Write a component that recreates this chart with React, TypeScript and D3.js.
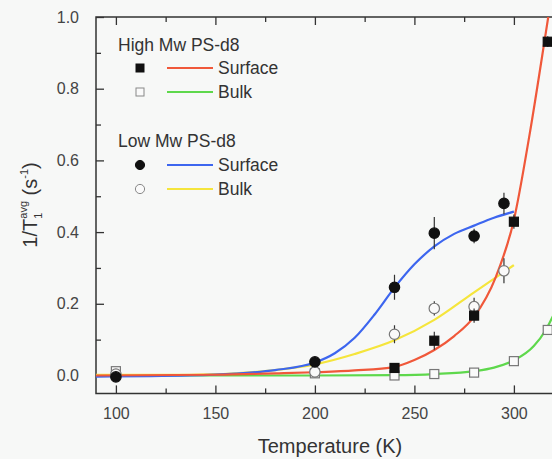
import React, { useEffect, useRef } from "react";
import * as d3 from "d3";

// measured points (T in K, 1/T1avg in s^-1)
const highSurfT = [240, 260, 280, 300, 317];
const highSurfV = [0.021, 0.097, 0.167, 0.429, 0.931];
const highSurfErr = [0.01, 0.025, 0.02, 0.02, 0.015];

const highBulkT = [100, 200, 240, 260, 280, 300, 317];
const highBulkV = [0.012, 0.006, 0.0, 0.004, 0.008, 0.04, 0.127];
const highBulkErr = [0.01, 0.008, 0.008, 0.008, 0.008, 0.008, 0.01];

const lowSurfT = [100, 200, 240, 260, 280, 295];
const lowSurfV = [-0.004, 0.038, 0.246, 0.397, 0.389, 0.48];
const lowSurfErr = [0.008, 0.01, 0.035, 0.045, 0.02, 0.03];

const lowBulkT = [100, 200, 240, 260, 280, 295];
const lowBulkV = [0.004, 0.01, 0.115, 0.187, 0.192, 0.292];
const lowBulkErr = [0.01, 0.008, 0.025, 0.02, 0.025, 0.035];

// fitted curves
const redCurveT = [90, 150, 182, 200, 220, 240, 250, 260, 270, 280, 291, 300, 308, 316, 319.5];
const redCurveV = [0.0, 0.002, 0.006, 0.009, 0.014, 0.024, 0.043, 0.071, 0.11, 0.164, 0.276, 0.434, 0.676, 0.955, 1.08];

const greenCurveT = [90, 200, 240, 260, 280, 290, 300, 310, 316, 320];
const greenCurveV = [0.0, 0.0, 0.001, 0.004, 0.012, 0.022, 0.042, 0.082, 0.127, 0.17];

const blueCurveT = [90, 137, 160, 180, 200, 210, 220, 230, 240, 250, 260, 270, 280, 290, 300];
const blueCurveV = [-0.003, 0.0, 0.005, 0.015, 0.036, 0.062, 0.105, 0.17, 0.245, 0.31, 0.36, 0.395, 0.418, 0.44, 0.457];

const yellowCurveT = [90, 137, 160, 180, 200, 220, 240, 260, 280, 300];
const yellowCurveV = [0.002, 0.002, 0.006, 0.015, 0.031, 0.06, 0.098, 0.155, 0.232, 0.308];

const xTicks = [100, 150, 200, 250, 300];
const xMinor = [125, 175, 225, 275];
const yTicks = [0.0, 0.2, 0.4, 0.6, 0.8, 1.0];
const yMinor = [0.1, 0.3, 0.5, 0.7, 0.9];

const W = 552,
  H = 459;
const FONT = "'Liberation Sans', Arial, sans-serif";

export default function App() {
  const ref = useRef<SVGSVGElement>(null);

  useEffect(() => {
    const svg = d3.select(ref.current);
    svg.selectAll("*").remove();

    const x = d3.scaleLinear().domain([90, 320]).range([96, 553.7]);
    const y = d3.scaleLinear().domain([-0.05, 1.0]).range([393.4, 17]);
    const [x0, x1] = x.range();
    const [y0, y1] = y.range();
    const ink = "#333";

    svg.append("rect").attr("width", W).attr("height", H).attr("fill", "#f7f8f7");

    svg
      .append("defs")
      .append("clipPath")
      .attr("id", "plot")
      .append("rect")
      .attr("x", x0)
      .attr("y", y1)
      .attr("width", x1 - x0)
      .attr("height", y0 - y1);

    // axes with inward ticks
    const axes = svg.append("g");
    const bottom = axes.append("g").attr("transform", `translate(0,${y0})`);
    bottom.call(d3.axisBottom(x).tickValues(xTicks).tickSize(-8).tickSizeOuter(0).tickPadding(14).tickFormat(d3.format("d")));
    bottom.append("g").call(d3.axisBottom(x).tickValues(xMinor).tickSize(-5).tickSizeOuter(0).tickFormat(() => ""));
    const top = axes.append("g").attr("transform", `translate(0,${y1})`);
    top.call(d3.axisTop(x).tickValues(xTicks).tickSize(-8).tickSizeOuter(0).tickFormat(() => ""));
    top.append("g").call(d3.axisTop(x).tickValues(xMinor).tickSize(-5).tickSizeOuter(0).tickFormat(() => ""));
    const left = axes.append("g").attr("transform", `translate(${x0},0)`);
    left.call(d3.axisLeft(y).tickValues(yTicks).tickSize(-8).tickSizeOuter(0).tickPadding(17).tickFormat(d3.format(".1f")));
    left.append("g").call(d3.axisLeft(y).tickValues(yMinor).tickSize(-5).tickSizeOuter(0).tickFormat(() => ""));

    axes.selectAll(".domain").remove();
    axes.selectAll(".tick line").attr("stroke", ink).attr("stroke-width", 1.3);
    axes
      .selectAll(".tick text")
      .attr("fill", "#444")
      .attr("font-size", 16)
      .attr("font-family", FONT);

    // frame (left, bottom, top)
    axes
      .append("path")
      .attr("d", `M${x1},${y1}H${x0}V${y0}H${x1}`)
      .attr("fill", "none")
      .attr("stroke", ink)
      .attr("stroke-width", 1.5);

    const plot = svg.append("g").attr("clip-path", "url(#plot)");
    const line = d3
      .line<[number, number]>()
      .x((d) => x(d[0]))
      .y((d) => y(d[1]))
      .curve(d3.curveMonotoneX);

    const curves: [number[], number[], string][] = [
      [greenCurveT, greenCurveV, "#5ed84c"],
      [yellowCurveT, yellowCurveV, "#f5e53c"],
      [blueCurveT, blueCurveV, "#3d66ef"],
      [redCurveT, redCurveV, "#f0583a"],
    ];
    curves.forEach(([ts, vs, c]) => {
      plot
        .append("path")
        .datum(ts.map((t, i) => [t, vs[i]] as [number, number]))
        .attr("fill", "none")
        .attr("stroke", c)
        .attr("stroke-width", 2.2)
        .attr("d", line);
    });

    const marks = plot.append("g");
    const series: [number[], number[], number[], string, boolean][] = [
      [highBulkT, highBulkV, highBulkErr, "square", false],
      [lowBulkT, lowBulkV, lowBulkErr, "circle", false],
      [highSurfT, highSurfV, highSurfErr, "square", true],
      [lowSurfT, lowSurfV, lowSurfErr, "circle", true],
    ];
    series.forEach(([ts, vs, es, shape, filled]) => {
      ts.forEach((t, i) => {
        marks
          .append("line")
          .attr("x1", x(t))
          .attr("x2", x(t))
          .attr("y1", y(vs[i] - es[i]))
          .attr("y2", y(vs[i] + es[i]))
          .attr("stroke", ink)
          .attr("stroke-width", 1.2);
        if (shape === "square") {
          marks
            .append("rect")
            .attr("x", x(t) - 4.5)
            .attr("y", y(vs[i]) - 4.5)
            .attr("width", 9)
            .attr("height", 9)
            .attr("fill", filled ? "#111" : "#fafafa")
            .attr("stroke", filled ? "#111" : "#777")
            .attr("stroke-width", 1.2);
        } else {
          marks
            .append("circle")
            .attr("cx", x(t))
            .attr("cy", y(vs[i]))
            .attr("r", 5.2)
            .attr("fill", filled ? "#111" : "#fafafa")
            .attr("stroke", filled ? "#111" : "#777")
            .attr("stroke-width", 1.2);
        }
      });
    });

    // legend
    const lg = svg.append("g").attr("font-family", FONT).attr("fill", "#333");
    const header = (txt: string, yy: number) =>
      lg.append("text").attr("x", 118).attr("y", yy).attr("font-size", 17.5).attr("dominant-baseline", "central").text(txt);
    const row = (yy: number, shape: string, filled: boolean, color: string, label: string) => {
      if (shape === "square") {
        lg.append("rect")
          .attr("x", 136)
          .attr("y", yy - 4)
          .attr("width", 8)
          .attr("height", 8)
          .attr("fill", filled ? "#111" : "#fafafa")
          .attr("stroke", filled ? "#111" : "#888")
          .attr("stroke-width", 1);
      } else {
        lg.append("circle")
          .attr("cx", 140)
          .attr("cy", yy)
          .attr("r", 4.6)
          .attr("fill", filled ? "#111" : "#fafafa")
          .attr("stroke", filled ? "#111" : "#888")
          .attr("stroke-width", 1);
      }
      lg.append("line").attr("x1", 167).attr("x2", 213).attr("y1", yy).attr("y2", yy).attr("stroke", color).attr("stroke-width", 2.2);
      lg.append("text").attr("x", 218).attr("y", yy).attr("font-size", 17.5).attr("dominant-baseline", "central").text(label);
    };
    header("High Mw PS-d8", 45);
    row(68, "square", true, "#f0583a", "Surface");
    row(92, "square", false, "#5ed84c", "Bulk");
    header("Low Mw PS-d8", 141);
    row(165, "circle", true, "#3d66ef", "Surface");
    row(189, "circle", false, "#f5e53c", "Bulk");

    // axis titles
    svg
      .append("text")
      .attr("x", 330)
      .attr("y", 446)
      .attr("text-anchor", "middle")
      .attr("dominant-baseline", "central")
      .attr("font-family", FONT)
      .attr("font-size", 20)
      .attr("fill", "#333")
      .text("Temperature (K)");

    const yl = svg
      .append("text")
      .attr("transform", "translate(37,205) rotate(-90)")
      .attr("text-anchor", "middle")
      .attr("font-family", FONT)
      .attr("font-size", 20)
      .attr("fill", "#333");
    yl.append("tspan").text("1/T");
    yl.append("tspan").attr("font-size", 11).attr("dy", 5).text("1");
    yl.append("tspan").attr("font-size", 11).attr("dx", -6).attr("dy", -15).text("avg");
    yl.append("tspan").attr("dy", 10).text(" (s");
    yl.append("tspan").attr("font-size", 11).attr("dy", -9).text("-1");
    yl.append("tspan").attr("dy", 9).text(")");
  }, []);

  return (
    <svg ref={ref} width={W} height={H} style={{ position: "absolute", left: 0, top: 0 }} />
  );
}
